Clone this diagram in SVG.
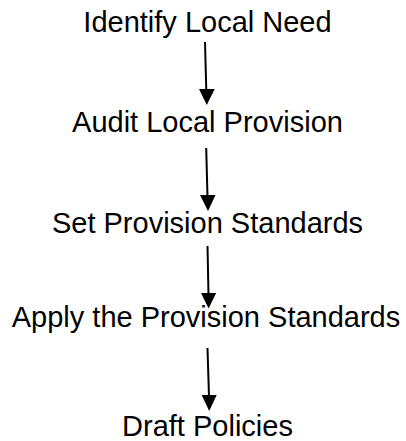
<svg xmlns="http://www.w3.org/2000/svg" width="406" height="441" viewBox="0 0 406 441">
<defs>
<style>
text{font-family:"Liberation Sans",Arial,sans-serif;font-size:29px;fill:#000;text-anchor:middle}
.c{stroke:#000;stroke-width:2;fill:none}
.h{fill:#000;stroke:none}
</style>
</defs>
<rect width="406" height="441" fill="#fff"/>
<g id="n1"><text x="207.5" y="32">Identify Local Need</text></g>
<g id="n2"><text x="207.5" y="132">Audit Local Provision</text></g>
<g id="n3"><text x="207.5" y="233">Set Provision Standards</text></g>
<g id="n4"><text x="206" y="327">Apply the Provision Standards</text></g>
<g id="n5"><text x="207.5" y="435.5">Draft Policies</text></g>
<g id="connectors">
<line class="c" x1="205" y1="42" x2="206.3" y2="91"/>
<polygon class="h" points="199,89 214.7,89 206.8,105"/>
<line class="c" x1="206.2" y1="148" x2="207.5" y2="197"/>
<polygon class="h" points="200,195 215.5,195 208,211"/>
<line class="c" x1="207.5" y1="246" x2="208.5" y2="295"/>
<polygon class="h" points="201,293 216.2,293 208.6,308.5"/>
<line class="c" x1="207.5" y1="348" x2="209" y2="397"/>
<polygon class="h" points="201.7,395 216.7,395 209.2,411"/>
</g>
</svg>
